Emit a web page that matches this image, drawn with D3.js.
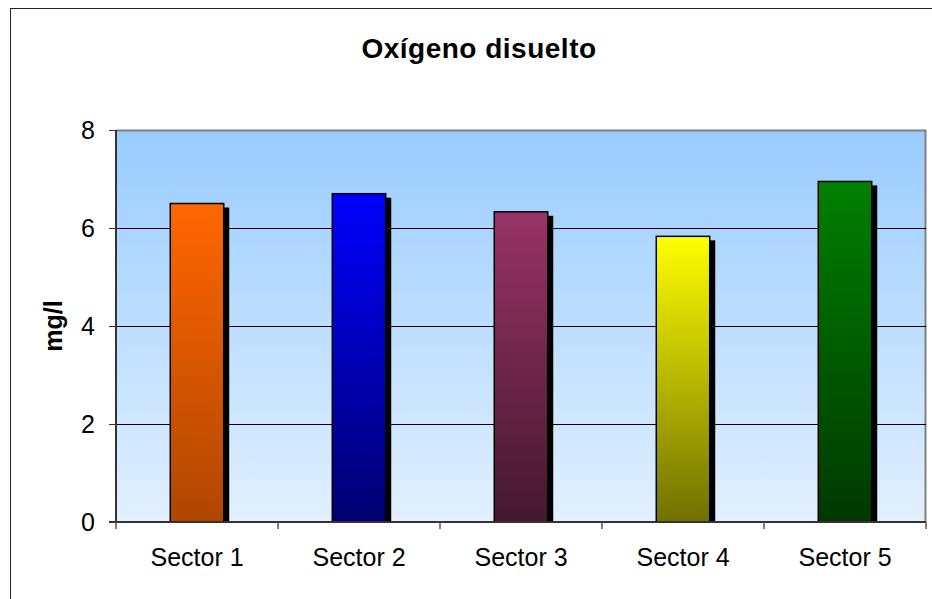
<!doctype html>
<html lang="es">
<head>
<meta charset="utf-8">
<title>Oxígeno disuelto</title>
<script src="https://d3js.org/d3.v7.min.js"></script>
<style>
  body { margin: 0; background: #fff; }
  text { font-family: "Liberation Sans", Arial, sans-serif; fill: #000; }
</style>
</head>
<body>
<div id="chart"></div>
<script>
// data
var sectors = ["Sector 1", "Sector 2", "Sector 3", "Sector 4", "Sector 5"];
var oxygen = [6.5, 6.7, 6.33, 5.83, 6.95];
var yTicks = [0, 2, 4, 6, 8];
var topColors = ["#ff6600", "#0000ff", "#993366", "#ffff00", "#008000"];
var bottomColors = ["#b04600", "#000070", "#44182c", "#707000", "#003800"];

var W = 932, H = 599;
var margin = { top: 130, right: 6, bottom: 77, left: 116 };
var width = W - margin.left - margin.right,
    height = H - margin.top - margin.bottom;

var svg = d3.select("#chart").append("svg")
  .attr("width", W).attr("height", H);

// outer chart frame
svg.append("rect")
  .attr("x", 10.5).attr("y", 8.5)
  .attr("width", W + 20).attr("height", H + 20)
  .attr("fill", "#fff").attr("stroke", "#222").attr("stroke-width", 1);

var defs = svg.append("defs");
var bg = defs.append("linearGradient").attr("id", "bg")
  .attr("x1", 0).attr("y1", 0).attr("x2", 0).attr("y2", 1);
bg.append("stop").attr("offset", "0%").attr("stop-color", "#99ccff");
bg.append("stop").attr("offset", "100%").attr("stop-color", "#e2f0ff");

sectors.forEach(function (s, i) {
  var g = defs.append("linearGradient").attr("id", "bar" + i)
    .attr("x1", 0).attr("y1", 0).attr("x2", 0).attr("y2", 1);
  g.append("stop").attr("offset", "0%").attr("stop-color", topColors[i]);
  g.append("stop").attr("offset", "100%").attr("stop-color", bottomColors[i]);
});

var x = d3.scaleBand().domain(sectors).range([0, width]).paddingInner(0.67).paddingOuter(0.335);
var xb = d3.scaleBand().domain(sectors).range([0, width]);
var y = d3.scaleLinear().domain([0, 8]).range([height, 0]);

var plot = svg.append("g")
  .attr("transform", "translate(" + margin.left + "," + margin.top + ")");

plot.append("rect")
  .attr("width", width).attr("height", height)
  .attr("fill", "url(#bg)");

// plot frame top and right in grey
plot.append("path")
  .attr("d", "M0,0.5H" + (width - 0.5) + "V" + height)
  .attr("fill", "none").attr("stroke", "#808080").attr("stroke-width", 2);

// gridlines
plot.selectAll(".grid").data(yTicks.filter(function (d) { return d > 0 && d < 8; }))
  .enter().append("line")
  .attr("x1", 0).attr("x2", width)
  .attr("y1", function (d) { return Math.round(y(d)) + 0.5; })
  .attr("y2", function (d) { return Math.round(y(d)) + 0.5; })
  .attr("stroke", "#000").attr("stroke-width", 1);

// bar shadows
plot.selectAll(".shadow").data(oxygen).enter().append("rect")
  .attr("x", function (d, i) { return x(sectors[i]) + 5.5; })
  .attr("y", function (d) { return y(d) + 4; })
  .attr("width", x.bandwidth())
  .attr("height", function (d) { return height - y(d) - 4; })
  .attr("fill", "#000");

// bars
plot.selectAll(".bar").data(oxygen).enter().append("rect")
  .attr("x", function (d, i) { return x(sectors[i]); })
  .attr("y", function (d) { return y(d); })
  .attr("width", x.bandwidth())
  .attr("height", function (d) { return height - y(d); })
  .attr("fill", function (d, i) { return "url(#bar" + i + ")"; })
  .attr("stroke", "#000").attr("stroke-width", 1.5);

// y axis
var yAxis = plot.append("g")
  .call(d3.axisLeft(y).tickValues(yTicks).tickSize(7).tickPadding(14));
yAxis.select(".domain").attr("stroke", "#333").attr("stroke-width", 2).attr("d", "M0,0V" + height);
yAxis.selectAll(".tick line").attr("stroke", "#333");
yAxis.selectAll("text").style("font-size", "25px");

// x axis
var xAxis = plot.append("g")
  .attr("transform", "translate(0," + height + ")")
  .call(d3.axisBottom(xb).tickSize(0).tickPadding(26));
xAxis.select(".domain").attr("stroke", "#333").attr("stroke-width", 2).attr("d", "M-7,0H" + width);
xAxis.selectAll("text").style("font-size", "25px");
xAxis.selectAll(".sep").data(sectors.concat([null])).enter().append("line")
  .attr("x1", function (d, i) { return i * xb.step(); })
  .attr("x2", function (d, i) { return i * xb.step(); })
  .attr("y1", 0).attr("y2", 7)
  .attr("stroke", "#555").attr("stroke-width", 1.5);

// title
svg.append("text")
  .attr("x", 479).attr("y", 58)
  .attr("text-anchor", "middle")
  .style("font-size", "28px").style("font-weight", "bold")
  .style("letter-spacing", "0.5px")
  .text("Oxígeno disuelto");

// y label
svg.append("text")
  .attr("transform", "translate(62," + (margin.top + height / 2) + ") rotate(-90)")
  .attr("text-anchor", "middle")
  .style("font-size", "25px").style("font-weight", "bold")
  .text("mg/l");
</script>
</body>
</html>
